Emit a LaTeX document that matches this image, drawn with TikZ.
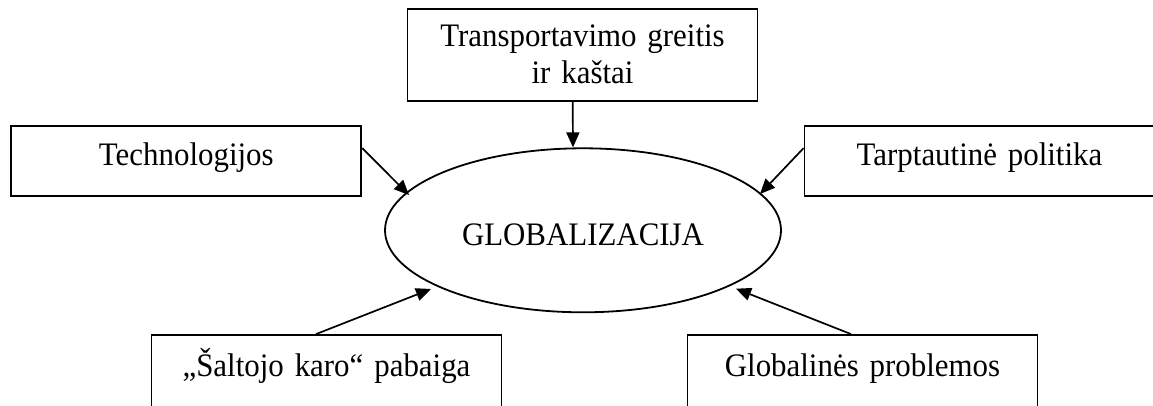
\documentclass[tikz,border=0pt]{standalone}
\usepackage{fontspec}
\setmainfont{Liberation Serif}[FakeStretch=0.942]
\usetikzlibrary{arrows.meta,shapes.geometric}
\begin{document}
\begin{tikzpicture}[x=1pt,y=1pt,
  every node/.style={font=\fontsize{32.8}{36.6}\selectfont},
  box/.style={draw,line width=1.8pt,inner xsep=0pt,inner ysep=0pt,text width=350pt,align=center},
  sidebox/.style={box,text height=39.3pt,text depth=31pt},
  lowbox/.style={box,text height=41pt,text depth=49pt},
  arr/.style={line width=1.7pt,-{Triangle[length=15pt,width=13pt]}}]
\useasboundingbox (0,0) rectangle (1153,405);
\clip (0,0) rectangle (1153,405);
\node[box,anchor=base,text height=37.4pt,text depth=54.3pt] (top) at (582.5,358.3) {Transportavimo greitis\\ir kaštai};
\node[sidebox,anchor=base] (tech) at (186.3,240) {Technologijos};
\node[sidebox,anchor=base] (tarp) at (979.5,240) {Tarptautinė politika};
\node[draw,ellipse,line width=1.8pt,minimum width=396pt,minimum height=164pt,inner sep=0pt,text height=29.4pt,text depth=0pt] (ell) at (583,174.7) {GLOBALIZACIJA};
\node[lowbox,anchor=base] (salt) at (326.5,29) {„Šaltojo karo“ pabaiga};
\node[lowbox,anchor=base] (glob) at (862.5,29) {Globalinės problemos};
\draw[arr] ([xshift=-9.8pt]top.south) -- ([xshift=-10pt]ell.north);
\draw[arr] ([yshift=-23.3pt]tech.north east) -- ([shift={(-174pt,35.3pt)}]ell.center);
\draw[arr] ([yshift=-23.3pt]tarp.north west) -- ([shift={(177pt,36.3pt)}]ell.center);
\draw[arr] ([xshift=-10.5pt]salt.north) -- ([shift={(-152pt,-58.7pt)}]ell.center);
\draw[arr] ([xshift=-11.5pt]glob.north) -- ([shift={(153pt,-58.4pt)}]ell.center);
\end{tikzpicture}
\end{document}
